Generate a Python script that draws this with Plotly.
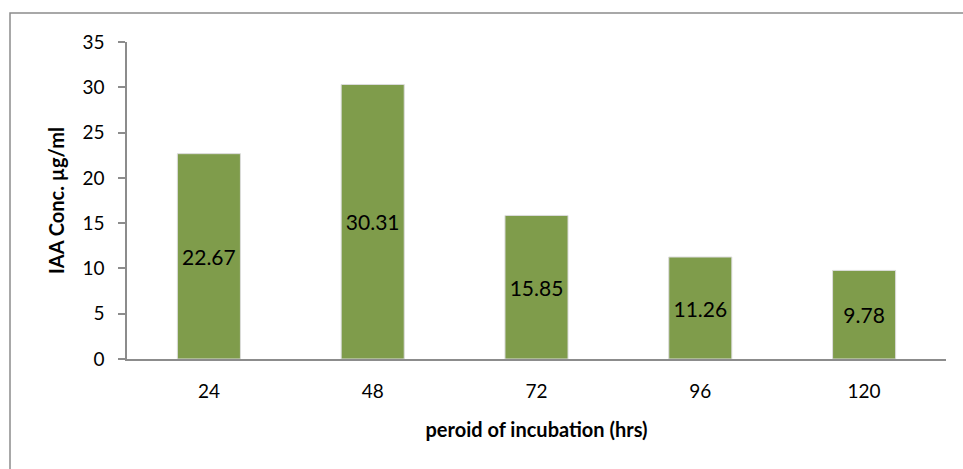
import plotly.graph_objects as go

# Incubation periods (hours) and IAA concentration (µg/ml)
periods = ["24", "48", "72", "96", "120"]
iaa_conc = [22.67, 30.31, 15.85, 11.26, 9.78]
y_ticks = [0, 5, 10, 15, 20, 25, 30, 35]

W, H = 963, 469
L, R, T, B = 127, 17, 42, 110
plot_w = W - L - R
plot_h = H - T - B

font_family = "Lato, 'Open Sans', sans-serif"

fig = go.Figure(
    go.Bar(
        x=periods,
        y=iaa_conc,
        marker=dict(color="#7f9c4b", line=dict(color="#dcdcdc", width=1)),
        text=[f"{v:.2f}" for v in iaa_conc],
        textposition="inside",
        insidetextanchor="middle",
        textfont=dict(family=font_family, size=21, color="black"),
        constraintext="none",
        hoverinfo="x+y",
    )
)

# Outer frame of the chart area (pixel positions converted to paper coords)
def px_x(px):
    return (px - L) / plot_w

def px_y(py):
    return (H - B - py) / plot_h

fig.add_shape(
    type="rect", xref="paper", yref="paper",
    x0=px_x(10), x1=px_x(990), y0=px_y(13), y1=px_y(520),
    line=dict(color="#8c8c8c", width=1.5), fillcolor="rgba(0,0,0,0)",
    layer="below",
)

fig.update_layout(
    width=W, height=H,
    margin=dict(l=L, r=R, t=T, b=B),
    paper_bgcolor="white",
    plot_bgcolor="white",
    bargap=0.615,
    showlegend=False,
    font=dict(family=font_family, size=19, color="black"),
    xaxis=dict(
        type="category",
        showline=True, linecolor="#8c8c8c", linewidth=1.5,
        showgrid=False, ticks="",
        tickfont=dict(size=19),
        ticklabelstandoff=14,
        title=dict(text="<b>peroid of incubation (hrs)</b>", font=dict(size=20), standoff=22),
    ),
    yaxis=dict(
        range=[0, 35],
        tickvals=y_ticks,
        showline=True, linecolor="#8c8c8c", linewidth=1.5,
        showgrid=False, zeroline=False,
        ticks="outside", ticklen=7, tickcolor="#8c8c8c", tickwidth=1.5,
        tickfont=dict(size=19),
        ticklabelstandoff=10,
        title=dict(text="<b>IAA Conc. µg/ml</b>", font=dict(size=20), standoff=12),
    ),
)

fig.write_html("out.html")
